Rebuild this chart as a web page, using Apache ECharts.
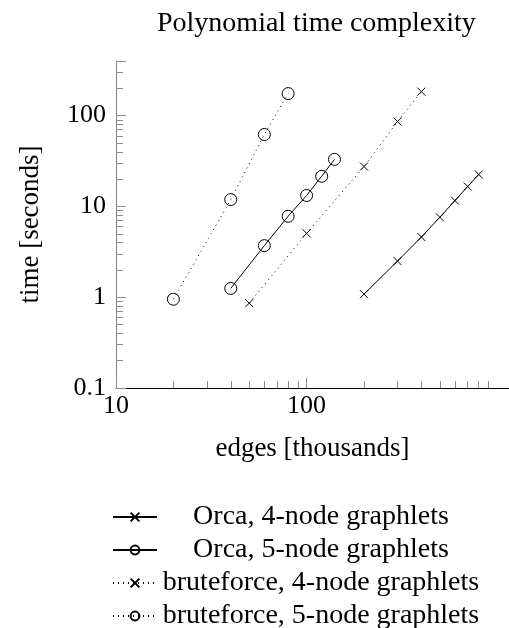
<!DOCTYPE html>
<html>
<head>
<meta charset="utf-8">
<title>Polynomial time complexity</title>
<script src="https://cdn.jsdelivr.net/npm/echarts@6/dist/echarts.min.js"></script>
<style>
  html, body { margin: 0; padding: 0; background: #fff; }
  #chart { width: 509px; height: 628px; }
</style>
</head>
<body>
<div id="chart"></div>
<script>
// values (edges in thousands, time in seconds)
var orca4X = [200, 300, 400, 500, 600, 700, 800]
var orca4Y = [1.08, 2.5, 4.6, 7.6, 11.6, 16.6, 22.5]
var orca5X = [40, 60, 80, 100, 120, 140]
var orca5Y = [1.25, 3.7, 7.8, 13.2, 21.5, 33]
var brute4X = [50, 100, 200, 300, 400]
var brute4Y = [0.86, 5.05, 27.5, 86, 184]
var brute5X = [20, 40, 60, 80]
var brute5Y = [0.95, 11.9, 62, 175]

var seriesNames = ['Orca, 4-node graphlets', 'Orca, 5-node graphlets', 'bruteforce, 4-node graphlets', 'bruteforce, 5-node graphlets']

var xLabels = [10, 100]
var yLabels = [0.1, 1, 10, 100]

var font = 'Liberation Serif'
var tickColor = '#8c8c8c'
var crossSymbol = 'path://M0,0L10,10M10,0L0,10'
var plotBox = { left: 116, top: 61, width: 393, height: 327, containLabel: false }

function pairs (xs, ys) {
  return xs.map(function (x, i) { return [x, ys[i]] })
}

function makeSeries (name, xs, ys, symbol, size, dotted) {
  return {
    name: name,
    type: 'line',
    data: pairs(xs, ys),
    symbol: symbol,
    symbolSize: size,
    showAllSymbol: true,
    lineStyle: { color: '#000', width: 1, type: dotted ? [1, 4] : 'solid' },
    itemStyle: { color: 'transparent', borderColor: '#000', borderWidth: 1 },
    emphasis: { disabled: true },
    z: 3
  }
}

var chart = echarts.init(document.getElementById('chart'))

var option = {
  animation: false,
  backgroundColor: '#fff',
  title: {
    text: 'Polynomial time complexity',
    left: 157,
    top: 10,
    padding: 0,
    textStyle: { fontFamily: font, fontSize: 28, fontWeight: 'normal', color: '#000' }
  },
  legend: {
    orient: 'vertical',
    left: 112,
    top: 503,
    height: 220,
    padding: 0,
    itemWidth: 44,
    itemHeight: 11,
    itemGap: 5,
    selectedMode: false,
    data: seriesNames,
    formatter: function (name) { return '{a|' + name + '}' },
    textStyle: {
      fontFamily: font,
      fontSize: 28,
      color: '#000',
      rich: {
        a: { width: 318, align: 'center', fontFamily: font, fontSize: 28, lineHeight: 27, color: '#000' }
      }
    }
  },
  // second grid on the same box only carries the y ticks
  grid: [plotBox, plotBox],
  xAxis: [
    {
      gridIndex: 0,
      type: 'log',
      logBase: 10,
      min: 10,
      max: 1153,
      position: 'bottom',
      name: 'edges [thousands]',
      nameLocation: 'middle',
      nameGap: 47,
      nameTextStyle: { fontFamily: font, fontSize: 27, color: '#000' },
      axisLine: { show: true, onZero: false, lineStyle: { color: '#000', width: 1 } },
      axisTick: { show: true, inside: true, length: 10, customValues: xLabels, lineStyle: { color: tickColor, width: 1 } },
      minorTick: { show: true, splitNumber: 9, length: 7, lineStyle: { color: tickColor, width: 1 } },
      axisLabel: { customValues: xLabels, margin: 5, fontFamily: font, fontSize: 26, color: '#000' },
      splitLine: { show: false },
      minorSplitLine: { show: false }
    },
    {
      gridIndex: 1,
      type: 'log',
      min: 10,
      max: 1153,
      show: false
    }
  ],
  yAxis: [
    {
      gridIndex: 0,
      type: 'log',
      logBase: 10,
      min: 0.1,
      max: 400,
      position: 'left',
      name: 'time [seconds]',
      nameLocation: 'middle',
      nameGap: 72,
      nameTextStyle: { fontFamily: font, fontSize: 27, color: '#000' },
      axisLine: { show: true, onZero: false, lineStyle: { color: '#808080', width: 1 } },
      axisTick: { show: true, inside: true, length: 10, lineStyle: { color: tickColor, width: 1 } },
      minorTick: { show: true, splitNumber: 9, length: 7, lineStyle: { color: tickColor, width: 1 } },
      axisLabel: { customValues: yLabels, margin: 10, fontFamily: font, fontSize: 26, color: '#000' },
      splitLine: { show: false },
      minorSplitLine: { show: false }
    },
    {
      gridIndex: 1,
      type: 'log',
      min: 0.1,
      max: 400,
      position: 'left',
      axisLine: { show: false, onZero: false },
      axisTick: { show: true, inside: true, length: 10, lineStyle: { color: tickColor, width: 1 } },
      minorTick: { show: true, splitNumber: 9, length: 7, lineStyle: { color: tickColor, width: 1 } },
      axisLabel: { show: false },
      splitLine: { show: false },
      minorSplitLine: { show: false }
    }
  ],
  series: [
    makeSeries(seriesNames[0], orca4X, orca4Y, crossSymbol, 8, false),
    makeSeries(seriesNames[1], orca5X, orca5Y, 'circle', 12, false),
    makeSeries(seriesNames[2], brute4X, brute4Y, crossSymbol, 8, true),
    makeSeries(seriesNames[3], brute5X, brute5Y, 'circle', 12, true)
  ]
}

chart.setOption(option)
</script>
</body>
</html>
